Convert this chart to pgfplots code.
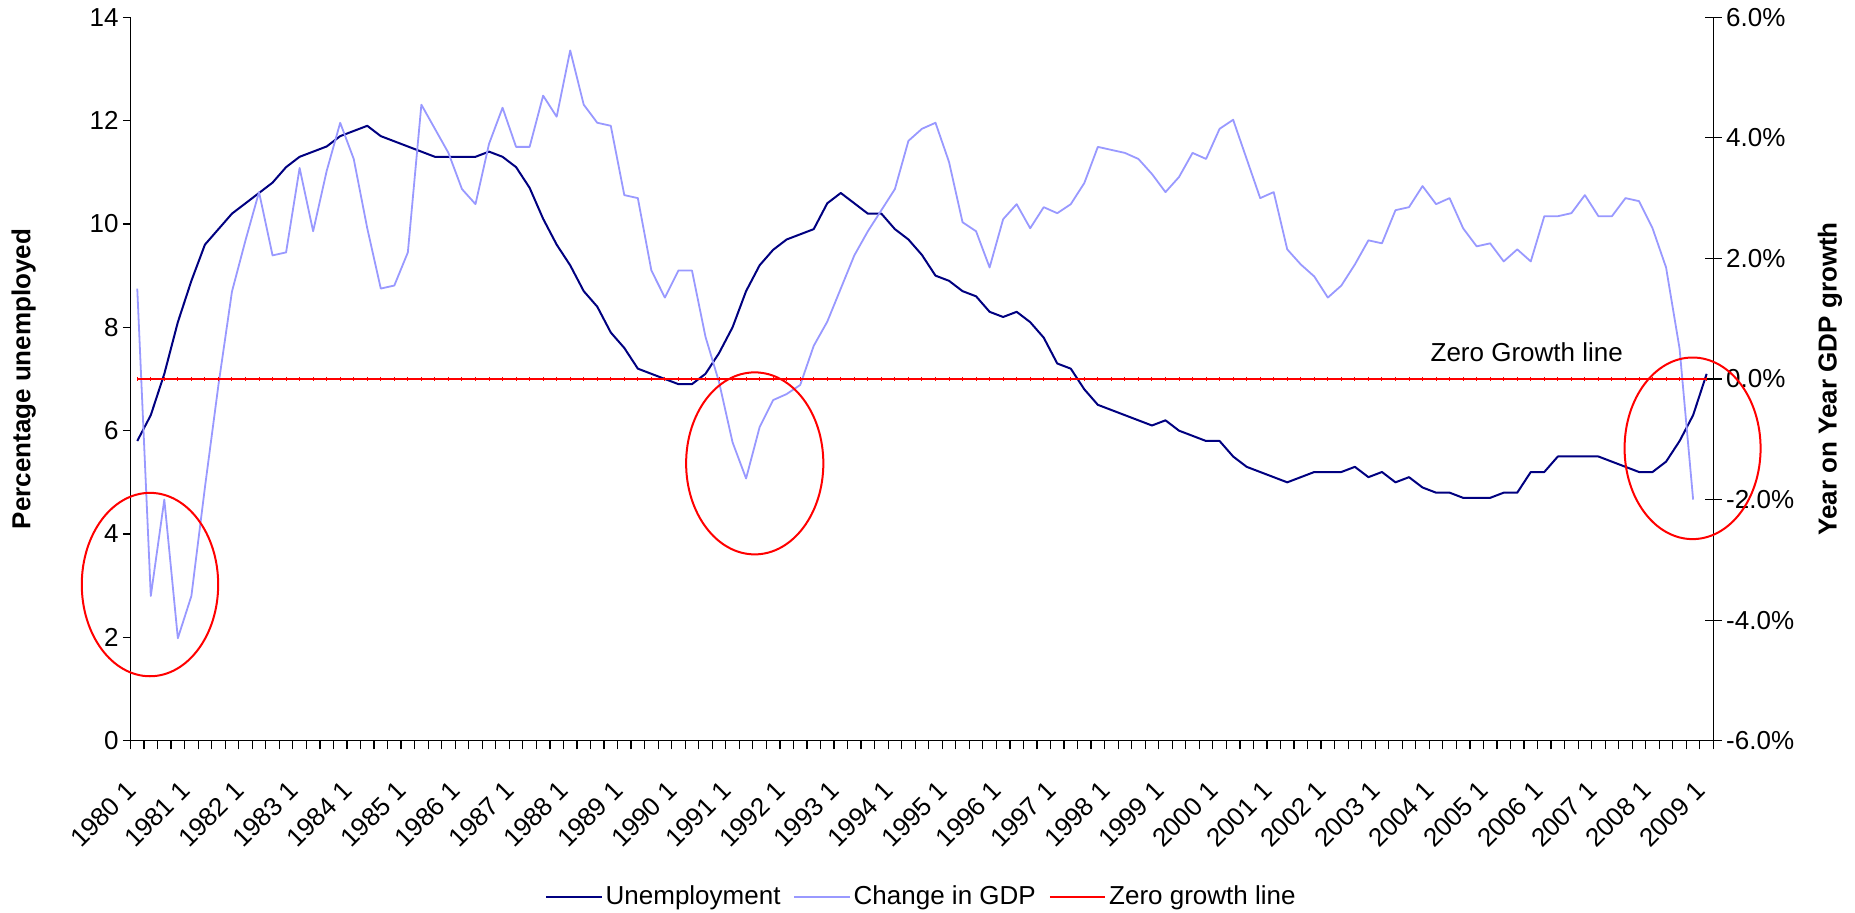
\documentclass[border=0pt]{standalone}
\usepackage{fontspec}
\setmainfont{Liberation Sans}
\usepackage{pgfplots}
\pgfplotsset{compat=1.18}
\usepackage{pgfplotstable}

\definecolor{navy}{RGB}{0,0,128}
\definecolor{gdpblue}{RGB}{153,153,255}
\definecolor{zred}{RGB}{255,0,0}

\pgfplotstableread{
i u
0 5.8
1 6.3
2 7.1
3 8.1
4 8.9
5 9.6
6 9.9
7 10.2
8 10.4
9 10.6
10 10.8
11 11.1
12 11.3
13 11.4
14 11.5
15 11.7
16 11.8
17 11.9
18 11.7
19 11.6
20 11.5
21 11.4
22 11.3
23 11.3
24 11.3
25 11.3
26 11.4
27 11.3
28 11.1
29 10.7
30 10.1
31 9.6
32 9.2
33 8.7
34 8.4
35 7.9
36 7.6
37 7.2
38 7.1
39 7.0
40 6.9
41 6.9
42 7.1
43 7.5
44 8.0
45 8.7
46 9.2
47 9.5
48 9.7
49 9.8
50 9.9
51 10.4
52 10.6
53 10.4
54 10.2
55 10.2
56 9.9
57 9.7
58 9.4
59 9.0
60 8.9
61 8.7
62 8.6
63 8.3
64 8.2
65 8.3
66 8.1
67 7.8
68 7.3
69 7.2
70 6.8
71 6.5
72 6.4
73 6.3
74 6.2
75 6.1
76 6.2
77 6.0
78 5.9
79 5.8
80 5.8
81 5.5
82 5.3
83 5.2
84 5.1
85 5.0
86 5.1
87 5.2
88 5.2
89 5.2
90 5.3
91 5.1
92 5.2
93 5.0
94 5.1
95 4.9
96 4.8
97 4.8
98 4.7
99 4.7
100 4.7
101 4.8
102 4.8
103 5.2
104 5.2
105 5.5
106 5.5
107 5.5
108 5.5
109 5.4
110 5.3
111 5.2
112 5.2
113 5.4
114 5.8
115 6.3
116 7.1
}\unemp

\pgfplotstableread{
i g
0 1.5
1 -3.6
2 -2.0
3 -4.3
4 -3.6
5 -1.8
6 -0.1
7 1.45
8 2.3
9 3.1
10 2.05
11 2.1
12 3.5
13 2.45
14 3.45
15 4.25
16 3.65
17 2.5
18 1.5
19 1.55
20 2.1
21 4.55
22 4.15
23 3.75
24 3.15
25 2.9
26 3.9
27 4.5
28 3.85
29 3.85
30 4.7
31 4.35
32 5.45
33 4.55
34 4.25
35 4.2
36 3.05
37 3.0
38 1.8
39 1.35
40 1.8
41 1.8
42 0.7
43 -0.05
44 -1.05
45 -1.65
46 -0.8
47 -0.35
48 -0.25
49 -0.1
50 0.55
51 0.95
52 1.5
53 2.05
54 2.45
55 2.8
56 3.15
57 3.95
58 4.15
59 4.25
60 3.6
61 2.6
62 2.45
63 1.85
64 2.65
65 2.9
66 2.5
67 2.85
68 2.75
69 2.9
70 3.25
71 3.85
72 3.8
73 3.75
74 3.65
75 3.4
76 3.1
77 3.35
78 3.75
79 3.65
80 4.15
81 4.3
82 3.65
83 3.0
84 3.1
85 2.15
86 1.9
87 1.7
88 1.35
89 1.55
90 1.9
91 2.3
92 2.25
93 2.8
94 2.85
95 3.2
96 2.9
97 3.0
98 2.5
99 2.2
100 2.25
101 1.95
102 2.15
103 1.95
104 2.7
105 2.7
106 2.75
107 3.05
108 2.7
109 2.7
110 3.0
111 2.95
112 2.5
113 1.85
114 0.5
115 -2.0
}\gdp

\pgfplotsset{
  common/.style={
    at={(0,0)}, anchor=south west,
    scale only axis, width=791.45pt, height=361.7pt,
    xmin=-0.5, xmax=116.5,
    clip=false,
    axis line style={black, line width=0.6pt},
    tick style={black, line width=0.6pt},
    tick label style={font=\fontsize{13}{15.6}\selectfont},
    label style={font=\bfseries\fontsize{13}{15.6}\selectfont},
    /pgf/number format/assume math mode=true,
  }
}

\begin{document}
\begin{tikzpicture}
\useasboundingbox (-65.25pt,-86.15pt) rectangle (862.25pt,370.35pt);
\begin{axis}[
  common,
  ymin=0, ymax=14,
  axis x line*=bottom, axis y line*=left,
  tick align=outside,
  ytick={0,2,...,14},
  major tick length=3.8pt,
  minor tick length=4.35pt,
  xtick={0,4,...,116},
  xticklabels={1980 1,1981 1,1982 1,1983 1,1984 1,1985 1,1986 1,1987 1,1988 1,1989 1,1990 1,1991 1,1992 1,1993 1,1994 1,1995 1,1996 1,1997 1,1998 1,1999 1,2000 1,2001 1,2002 1,2003 1,2004 1,2005 1,2006 1,2007 1,2008 1,2009 1},
  major x tick style={draw=none},
  minor xtick={-0.5,0.5,...,116.5},
  xticklabel style={xshift=-6.4pt, yshift=-15.5pt, rotate=45, anchor=north east, inner sep=0pt},
  yticklabel style={inner sep=0pt, xshift=-2pt},
  ylabel={Percentage unemployed},
  ylabel style={at={([xshift=-53.4pt]rel axis cs:0,0.5)}, anchor=center},
]
\addplot[navy, line width=1pt, line join=round, mark=none] table[x=i, y=u] {\unemp};
\end{axis}
\begin{axis}[
  common,
  ymin=-6, ymax=6,
  axis x line=none, axis y line*=right,
  tick align=center,
  major tick length=8.4pt,
  ytick={-6,-4,...,6},
  yticklabels={-6.0\%,-4.0\%,-2.0\%,0.0\%,2.0\%,4.0\%,6.0\%},
  yticklabel style={inner sep=0pt, xshift=2pt},
  ylabel={Year on Year GDP growth},
  ylabel style={at={([xshift=58.3pt]rel axis cs:1,0.5)}, anchor=center},
  legend columns=3,
  legend style={at={(0.5,0)}, anchor=center, yshift=-78pt, draw=none, fill=none,
    font=\fontsize{13}{15.6}\selectfont,
    nodes={inner sep=1.5pt},
    /tikz/every even column/.append style={column sep=5pt}},
  legend image code/.code={\draw[#1] (0pt,0pt) -- (27.7pt,0pt);},
]
\addlegendimage{navy, line width=1pt}
\addlegendentry{Unemployment}
\addplot[gdpblue, line width=0.9pt, line join=round, mark=none] table[x=i, y=g] {\gdp};
\addlegendentry{Change in GDP}
\addplot[zred, line width=1pt, mark=|, mark size=1pt, mark options={line width=0.5pt}] coordinates {
(0,0) (1,0) (2,0) (3,0) (4,0) (5,0) (6,0) (7,0) (8,0) (9,0) (10,0) (11,0) (12,0) (13,0) (14,0) (15,0) (16,0) (17,0) (18,0) (19,0)
(20,0) (21,0) (22,0) (23,0) (24,0) (25,0) (26,0) (27,0) (28,0) (29,0) (30,0) (31,0) (32,0) (33,0) (34,0) (35,0) (36,0) (37,0) (38,0) (39,0)
(40,0) (41,0) (42,0) (43,0) (44,0) (45,0) (46,0) (47,0) (48,0) (49,0) (50,0) (51,0) (52,0) (53,0) (54,0) (55,0) (56,0) (57,0) (58,0) (59,0)
(60,0) (61,0) (62,0) (63,0) (64,0) (65,0) (66,0) (67,0) (68,0) (69,0) (70,0) (71,0) (72,0) (73,0) (74,0) (75,0) (76,0) (77,0) (78,0) (79,0)
(80,0) (81,0) (82,0) (83,0) (84,0) (85,0) (86,0) (87,0) (88,0) (89,0) (90,0) (91,0) (92,0) (93,0) (94,0) (95,0) (96,0) (97,0) (98,0) (99,0)
(100,0) (101,0) (102,0) (103,0) (104,0) (105,0) (106,0) (107,0) (108,0) (109,0) (110,0) (111,0) (112,0) (113,0) (114,0) (115,0) (116,0)
};
\addlegendentry{Zero growth line}
\draw[zred, line width=1pt] (axis cs:0.94,-3.41) ellipse [x radius=34.1pt, y radius=45.85pt];
\draw[zred, line width=1pt] (axis cs:45.64,-1.40) ellipse [x radius=34.3pt, y radius=45.5pt];
\draw[zred, line width=1pt] (axis cs:114.96,-1.15) ellipse [x radius=34pt, y radius=45.4pt];
\node[font=\fontsize{13}{15.6}\selectfont] at (axis cs:102.7,0.45) {Zero Growth line};
\end{axis}
\end{tikzpicture}
\end{document}
